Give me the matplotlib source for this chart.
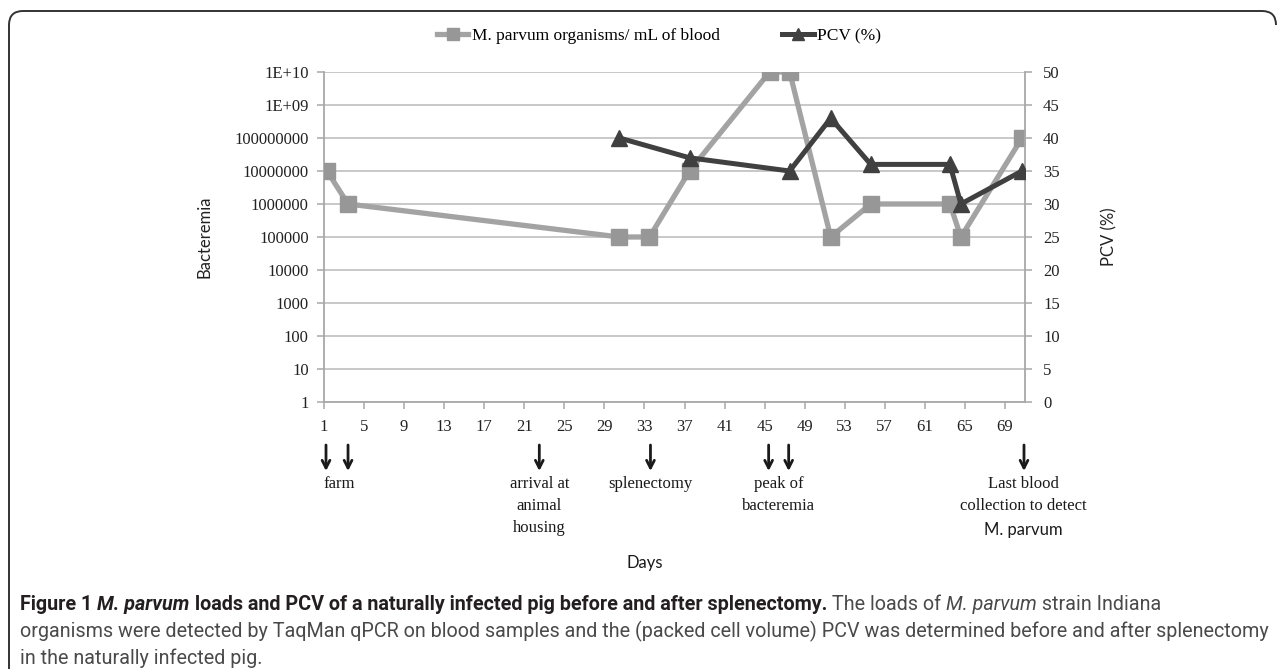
import numpy as np
import matplotlib
matplotlib.use('Agg')
import matplotlib.pyplot as plt
from matplotlib.lines import Line2D
from matplotlib.path import Path
from matplotlib.patches import PathPatch
import matplotlib.transforms as mtransforms

# bacteremia (M. parvum organisms / mL of blood)
bac_days = [1.3, 3.4, 30.5, 33.5, 37.5, 45.5, 47.5, 51.6, 55.6, 63.5, 64.6, 70.7]
bac_vals = [1e7, 1e6, 1e5, 1e5, 1e7, 1e10, 1e10, 1e5, 1e6, 1e6, 1e5, 1e8]

# packed cell volume
pcv_days = [30.5, 37.5, 47.5, 51.6, 55.6, 63.5, 64.6, 70.7]
pcv_vals = [40, 37, 35, 43, 36, 36, 30, 35]

x_ticks = list(range(1, 70, 4))
left_ticks = [10.0 ** k for k in range(11)]
left_labels = ['1', '10', '100', '1000', '10000', '100000', '1000000',
               '10000000', '100000000', '1E+09', '1E+10']
right_ticks = list(range(0, 55, 5))

events = [('farm', [1.2, 3.4], 2.5),
          ('arrival at\nanimal\nhousing', [22.5], 22.5),
          ('splenectomy', [33.6], 33.6),
          ('peak of\nbacteremia', [45.4, 47.4], 46.4),
          ('Last blood\ncollection to detect', [70.9], 70.8)]

serif = 'Liberation Serif'
sans = 'Lato'
grid_c = '#c4c4c4'
axis_c = '#a8a8a8'
gray = '#a3a3a3'
gray_m = '#979797'
dark = '#404040'

W, H = 1282, 669
fig = plt.figure(figsize=(W / 100, H / 100), dpi=100)


def px(x, y):
    return x / W, 1 - y / H


ax = fig.add_axes([324 / W, 1 - 402 / H, (1025 - 324) / W, (402 - 72) / H])
ax2 = ax.twinx()

ax.set_yscale('log')
ax.set_ylim(1, 1e10)
ax.set_xlim(1, 71)
ax2.set_ylim(0, 50)

ax.set_yticks(left_ticks)
ax.set_yticklabels(left_labels)
ax.yaxis.set_minor_locator(matplotlib.ticker.NullLocator())
ax2.set_yticks(right_ticks)
ax.set_xticks(x_ticks)

for a in (ax, ax2):
    for s in a.spines.values():
        s.set_visible(False)
ax.spines['left'].set_visible(True)
ax.spines['bottom'].set_visible(True)
ax2.spines['right'].set_visible(True)
for s in (ax.spines['left'], ax.spines['bottom'], ax2.spines['right']):
    s.set_color(axis_c)
    s.set_linewidth(1.3)

ax.tick_params(axis='both', direction='out', length=5, width=1.1, color=axis_c,
               labelsize=12, labelcolor='#222222', pad=6)
ax.tick_params(axis='x', pad=7)
ax2.tick_params(axis='y', direction='out', length=5, width=1.1, color=axis_c,
                labelsize=12, labelcolor='#222222', pad=8)
for lab in ax.get_xticklabels() + ax.get_yticklabels() + ax2.get_yticklabels():
    lab.set_fontfamily(serif)

ax.grid(axis='y', color=grid_c, linewidth=1.3)
ax.set_axisbelow(True)

ax.plot(bac_days, bac_vals, color=gray, lw=3.8, marker='s', markersize=11,
        markerfacecolor=gray_m, markeredgecolor=gray_m, zorder=3)
ax2.plot(pcv_days, pcv_vals, color=dark, lw=3.6, marker='^', markersize=11,
         markerfacecolor=dark, markeredgecolor=dark, zorder=4)

ax.set_ylabel('Bacteremia', fontfamily=sans, fontsize=12, color='#222222', labelpad=16)
ax2.set_ylabel('PCV (%)', fontfamily=sans, fontsize=12, color='#222222', labelpad=30)

# legend
handles = [Line2D([], [], color=gray, lw=3.8, marker='s', markersize=8,
                  markerfacecolor=gray_m, markeredgecolor=gray_m),
           Line2D([], [], color=dark, lw=3.6, marker='^', markersize=8,
                  markerfacecolor=dark, markeredgecolor=dark)]
fig.legend(handles, ['M. parvum organisms/ mL of blood', 'PCV (%)'],
           loc='center', bbox_to_anchor=px(659, 36), ncol=2, frameon=False,
           handlelength=1.8, handletextpad=0.2, columnspacing=3.6,
           prop={'family': serif, 'size': 12.5})

# event arrows and labels below the axis
tr = mtransforms.blended_transform_factory(ax.transData, fig.transFigure)
for label, arrows, cx in events:
    for d in arrows:
        ax.annotate('', xy=(d, px(0, 471)[1]), xytext=(d, px(0, 445)[1]),
                    xycoords=tr, textcoords=tr,
                    arrowprops=dict(arrowstyle='->,head_length=0.55,head_width=0.28',
                                    color='#1a1a1a', lw=2.0, shrinkA=0, shrinkB=0),
                    annotation_clip=False)
    ax.text(cx, px(0, 476)[1], label, transform=tr, ha='center', va='top',
            fontfamily=serif, fontsize=12, linespacing=1.5, color='#1a1a1a',
            clip_on=False)
ax.text(70.8, px(0, 522)[1], 'M. parvum', transform=tr, ha='center', va='top',
        fontfamily=sans, fontsize=12, color='#1a1a1a', clip_on=False)
fig.text(*px(645, 563), 'Days', ha='center', va='center', fontfamily=sans,
         fontsize=12, color='#1a1a1a')

# frame
r = 14
verts = [(9, H), (9, 11 + r), (9, 11), (9 + r, 11), (1276 - r, 11), (1276, 11), (1276, 11 + r)]
codes = [Path.MOVETO, Path.LINETO, Path.CURVE3, Path.CURVE3, Path.LINETO, Path.CURVE3, Path.CURVE3]
verts = [px(x, y) for x, y in verts]
fig.patches.append(PathPatch(Path(verts, codes), transform=fig.transFigure,
                             fill=False, edgecolor='#333333', lw=1.4))

# caption
cap_font = ['Roboto', 'DejaVu Sans']
renderer = fig.canvas.get_renderer()
lines = [
    [('Figure 1 ', 'bold', 'normal', '#231f20'),
     ('M. parvum', 'bold', 'italic', '#231f20'),
     (' loads and PCV of a naturally infected pig before and after splenectomy.', 'bold', 'normal', '#231f20'),
     (' The loads of ', 'normal', 'normal', '#4a4a4a'),
     ('M. parvum', 'normal', 'italic', '#4a4a4a'),
     (' strain Indiana', 'normal', 'normal', '#4a4a4a')],
    [('organisms were detected by TaqMan qPCR on blood samples and the (packed cell volume) PCV '
      'was determined before and after splenectomy', 'normal', 'normal', '#4a4a4a')],
    [('in the naturally infected pig.', 'normal', 'normal', '#4a4a4a')],
]


def place_line(parts, y0, size, draw=True):
    x0 = 20
    made = []
    for s, wgt, sty, col in parts:
        t = fig.text(*px(x0, y0), s, ha='left', va='center', fontfamily=cap_font,
                     fontsize=size, fontweight=wgt, fontstyle=sty, color=col)
        x0 += t.get_window_extent(renderer).width
        made.append(t)
    if not draw:
        for t in made:
            t.remove()
    return x0 - 20


# fit the first caption line to its width in the figure
base = 13
w1 = place_line(lines[0], 605, base, draw=False)
cap_size = base * 1140 / w1
for i, parts in enumerate(lines):
    place_line(parts, 605 + i * 26.5, cap_size)

fig.savefig('out.png', dpi=100)
